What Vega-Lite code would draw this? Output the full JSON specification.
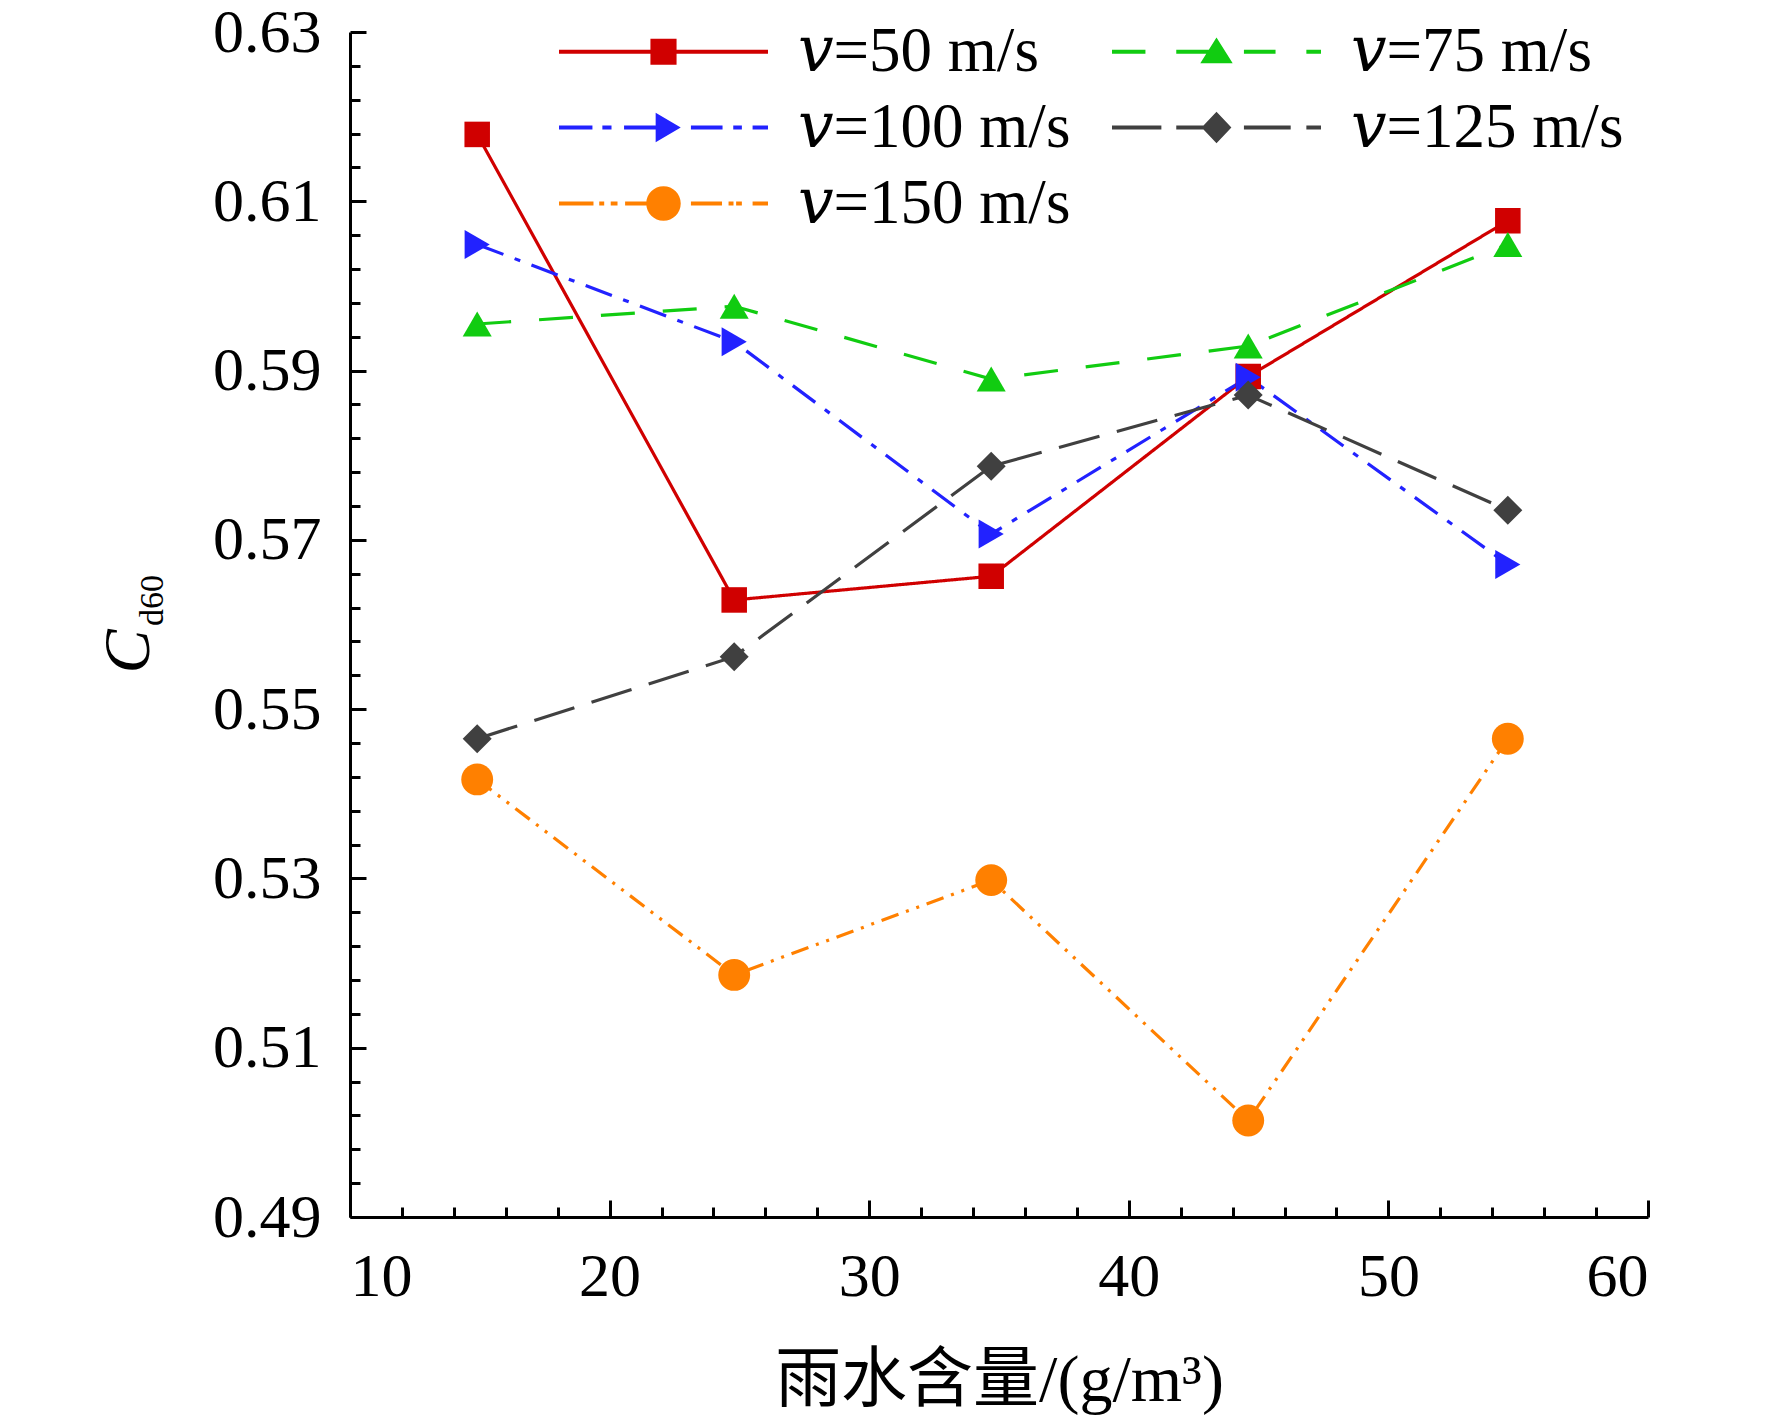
{
  "$schema": "https://vega.github.io/schema/vega-lite/v6.json",
  "width": 1298,
  "height": 1185,
  "autosize": {"type": "none"},
  "padding": {"left": 350, "top": 32, "right": 124, "bottom": 204},
  "background": "white",
  "data": {
    "values": [
      {"x": 14.9, "y": 0.6179, "series": "𝑣=50 m/s"},
      {"x": 24.8, "y": 0.5629, "series": "𝑣=50 m/s"},
      {"x": 34.7, "y": 0.5657, "series": "𝑣=50 m/s"},
      {"x": 44.6, "y": 0.5893, "series": "𝑣=50 m/s"},
      {"x": 54.6, "y": 0.6077, "series": "𝑣=50 m/s"},
      {"x": 14.9, "y": 0.5955, "series": "𝑣=75 m/s"},
      {"x": 24.8, "y": 0.5976, "series": "𝑣=75 m/s"},
      {"x": 34.7, "y": 0.5890, "series": "𝑣=75 m/s"},
      {"x": 44.6, "y": 0.5929, "series": "𝑣=75 m/s"},
      {"x": 54.6, "y": 0.6049, "series": "𝑣=75 m/s"},
      {"x": 14.9, "y": 0.6049, "series": "𝑣=100 m/s"},
      {"x": 24.8, "y": 0.5934, "series": "𝑣=100 m/s"},
      {"x": 34.7, "y": 0.5707, "series": "𝑣=100 m/s"},
      {"x": 44.6, "y": 0.5892, "series": "𝑣=100 m/s"},
      {"x": 54.6, "y": 0.5671, "series": "𝑣=100 m/s"},
      {"x": 14.9, "y": 0.5465, "series": "𝑣=125 m/s"},
      {"x": 24.8, "y": 0.5562, "series": "𝑣=125 m/s"},
      {"x": 34.7, "y": 0.5787, "series": "𝑣=125 m/s"},
      {"x": 44.6, "y": 0.5871, "series": "𝑣=125 m/s"},
      {"x": 54.6, "y": 0.5735, "series": "𝑣=125 m/s"},
      {"x": 14.9, "y": 0.5417, "series": "𝑣=150 m/s"},
      {"x": 24.8, "y": 0.5186, "series": "𝑣=150 m/s"},
      {"x": 34.7, "y": 0.5298, "series": "𝑣=150 m/s"},
      {"x": 44.6, "y": 0.5014, "series": "𝑣=150 m/s"},
      {"x": 54.6, "y": 0.5465, "series": "𝑣=150 m/s"}
    ]
  },
  "layer": [
    {
      "encoding": {
        "x": {
          "field": "x",
          "type": "quantitative",
          "scale": {"domain": [10, 60], "nice": false, "zero": false},
          "axis": {
            "orient": "bottom",
            "values": [10, 20, 30, 40, 50, 60],
            "tickSize": -17,
            "labelPadding": 46,
            "title": "雨水含量/(g/m³)",
            "titleFontSize": 66,
            "titleBaseline": "alphabetic",
            "titleY": 183
          }
        },
        "y": {
          "field": "y",
          "type": "quantitative",
          "scale": {"domain": [0.49, 0.63], "nice": false, "zero": false},
          "axis": {
            "orient": "left",
            "values": [0.49, 0.51, 0.53, 0.55, 0.57, 0.59, 0.61, 0.63],
            "format": ".2f",
            "tickSize": -16,
            "labelPadding": 45,
            "title": "C",
            "titleFontStyle": "italic",
            "titleFontSize": 66,
            "titleAngle": 270,
            "titleBaseline": "alphabetic",
            "titleAlign": "center",
            "titleX": -202,
            "titleY": 619
          }
        },
        "color": {
          "field": "series",
          "type": "nominal",
          "scale": {
            "domain": ["𝑣=50 m/s", "𝑣=75 m/s", "𝑣=100 m/s", "𝑣=125 m/s", "𝑣=150 m/s"],
            "range": ["#d00000", "#11cc11", "#2222ff", "#404040", "#ff8000"]
          },
          "legend": null
        }
      },
      "layer": [
        {
          "mark": {"type": "line", "strokeWidth": 3.2},
          "encoding": {
            "strokeDash": {
              "field": "series",
              "type": "nominal",
              "scale": {
                "domain": ["𝑣=50 m/s", "𝑣=75 m/s", "𝑣=100 m/s", "𝑣=125 m/s", "𝑣=150 m/s"],
                "range": [[1, 0], [34, 28], [28, 12, 6, 12], [42, 18], [18, 8, 3, 8, 3, 8]]
              },
              "legend": null
            }
          }
        },
        {
          "mark": {"type": "point", "filled": true, "size": 841, "opacity": 1, "strokeWidth": 0},
          "encoding": {
            "shape": {
              "field": "series",
              "type": "nominal",
              "scale": {
                "domain": ["𝑣=50 m/s", "𝑣=75 m/s", "𝑣=100 m/s", "𝑣=125 m/s", "𝑣=150 m/s"],
                "range": [
                  "M-0.88,-0.88H0.88V0.88H-0.88Z",
                  "triangle-up",
                  "triangle-right",
                  "diamond",
                  "M-1.1,0A1.1,1.1,0,1,1,1.1,0A1.1,1.1,0,1,1,-1.1,0Z"
                ]
              },
              "legend": null
            }
          }
        }
      ]
    },
    {
      "mark": {"type": "point", "filled": true, "opacity": 0, "size": 2730},
      "encoding": {
        "x": {
          "field": "x",
          "type": "quantitative",
          "scale": {"domain": [10, 60], "nice": false, "zero": false},
          "axis": {
            "orient": "bottom",
            "values": [12, 14, 16, 18, 22, 24, 26, 28, 32, 34, 36, 38, 42, 44, 46, 48, 52, 54, 56, 58],
            "tickSize": -10,
            "labels": false,
            "domain": false,
            "title": null
          }
        },
        "y": {
          "field": "y",
          "type": "quantitative",
          "scale": {"domain": [0.49, 0.63], "nice": false, "zero": false},
          "axis": {
            "orient": "left",
            "values": [0.494, 0.498, 0.502, 0.506, 0.514, 0.518, 0.522, 0.526, 0.534, 0.538, 0.542, 0.546, 0.554, 0.558, 0.562, 0.566, 0.574, 0.578, 0.582, 0.586, 0.594, 0.598, 0.602, 0.606, 0.614, 0.618, 0.622, 0.626],
            "tickSize": -10,
            "labels": false,
            "domain": false,
            "title": "d60",
            "titleFontSize": 34,
            "titleAngle": 270,
            "titleBaseline": "alphabetic",
            "titleAlign": "center",
            "titleX": -188,
            "titleY": 568
          }
        },
        "shape": {
          "field": "series",
          "type": "nominal",
          "scale": {
            "domain": ["𝑣=50 m/s", "𝑣=100 m/s", "𝑣=150 m/s", "𝑣=75 m/s", "𝑣=125 m/s"],
            "range": [
              "M-4,-0.075H4V0.075H-4Z M-0.5,-0.5H0.5V0.5H-0.5Z",
              "M-4,-0.075H-2.72V0.075H-4Z M-2.34,-0.075H-1.99V0.075H-2.34Z M-1.51,-0.075H0V0.075H-1.51Z M-0.3,-0.56L0.66,0L-0.3,0.56Z M1.05,-0.075H2.26V0.075H1.05Z M2.67,-0.075H3V0.075H2.67Z M3.41,-0.075H4V0.075H3.41Z",
              "M-4,-0.075H-2.68V0.075H-4Z M-2.46,-0.075H-2.27V0.075H-2.46Z M-2.02,-0.075H-1.76V0.075H-2.02Z M-1.47,-0.075H0V0.075H-1.47Z M-0.66,0A0.66,0.66,0,1,1,0.66,0A0.66,0.66,0,1,1,-0.66,0Z M1.05,-0.075H2.24V0.075H1.05Z M2.49,-0.075H2.68V0.075H2.49Z M2.78,-0.075H3V0.075H2.78Z M3.41,-0.075H4V0.075H3.41Z",
              "M-4,-0.075H-2.72V0.075H-4Z M-1.54,-0.075H0V0.075H-1.54Z M0,-0.55L0.62,0.44L-0.62,0.44Z M1.05,-0.075H2.26V0.075H1.05Z M3.44,-0.075H4V0.075H3.44Z",
              "M-4,-0.075H-2.11V0.075H-4Z M-1.54,-0.075H0V0.075H-1.54Z M0,-0.6L0.57,0L0,0.6L-0.57,0Z M1.05,-0.075H2.84V0.075H1.05Z M3.44,-0.075H4V0.075H3.44Z"
            ]
          },
          "legend": {
            "orient": "none",
            "legendX": 209,
            "legendY": -12,
            "columns": 2,
            "title": null,
            "padding": 0,
            "labelFont": "Liberation Serif, DejaVu Serif",
            "labelFontSize": 63,
            "labelColor": "black",
            "labelLimit": 600,
            "labelOffset": 103,
            "symbolOffset": 73,
            "symbolSize": 2730,
            "symbolStrokeWidth": 0,
            "symbolOpacity": 1,
            "rowPadding": 12,
            "columnPadding": 41
          }
        },
        "color": {
          "field": "series",
          "type": "nominal",
          "scale": {
            "domain": ["𝑣=50 m/s", "𝑣=100 m/s", "𝑣=150 m/s", "𝑣=75 m/s", "𝑣=125 m/s"],
            "range": ["#d00000", "#2222ff", "#ff8000", "#11cc11", "#404040"]
          },
          "legend": {
            "orient": "none",
            "legendX": 209,
            "legendY": -12,
            "columns": 2,
            "title": null,
            "padding": 0,
            "labelFont": "Liberation Serif, DejaVu Serif",
            "labelFontSize": 63,
            "labelColor": "black",
            "labelLimit": 600,
            "labelOffset": 103,
            "symbolOffset": 73,
            "symbolSize": 2730,
            "symbolStrokeWidth": 0,
            "symbolOpacity": 1,
            "rowPadding": 12,
            "columnPadding": 41
          }
        }
      }
    }
  ],
  "resolve": {"scale": {"x": "independent", "y": "independent", "shape": "independent", "color": "independent"}},
  "config": {
    "view": {"stroke": null},
    "axis": {
      "grid": false,
      "domainColor": "black",
      "domainWidth": 3,
      "tickColor": "black",
      "tickWidth": 3,
      "labelFont": "Liberation Serif",
      "labelFontSize": 62,
      "labelColor": "black",
      "titleFont": "Liberation Serif, Noto Sans CJK SC",
      "titleFontWeight": "normal",
      "titleColor": "black"
    }
  }
}
